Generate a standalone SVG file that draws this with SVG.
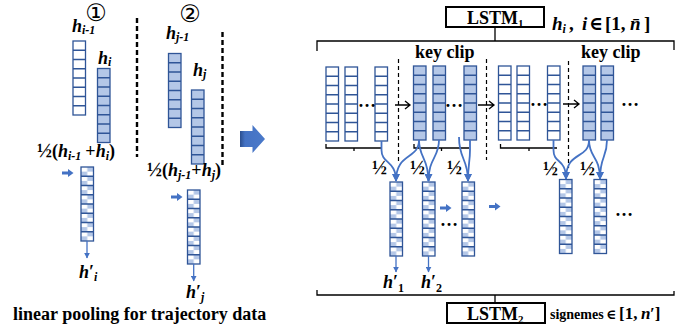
<svg xmlns="http://www.w3.org/2000/svg" xmlns:xlink="http://www.w3.org/1999/xlink" width="699" height="335" viewBox="0 0 699 335">
<style>
.t{font-family:"Liberation Serif","DejaVu Serif",serif;font-weight:bold;fill:#000}
.it{font-style:italic}
.cell{stroke:#2F5597;stroke-width:1.3}
.cv{fill:none;stroke:#4472C4;stroke-width:1.8}
.dn{fill:none;stroke:#4472C4;stroke-width:1.3}
.blk{fill:none;stroke:#000;stroke-width:1.3}
.dash{fill:none;stroke:#000;stroke-width:1.2;stroke-dasharray:4 3}
.dashL{fill:none;stroke:#000;stroke-width:2.4;stroke-dasharray:5 3}
.box{fill:#fff;stroke:#000;stroke-width:2}
.ba{fill:#4472C4}
.cd{font-family:"DejaVu Sans","Noto Sans CJK SC",sans-serif;fill:#000}
</style>
<defs>
<pattern id="chk" patternUnits="userSpaceOnUse" x="0" y="0" width="12.5" height="9.25">
<rect width="12.5" height="9.25" fill="#fff"/>
<rect x="6.25" y="0" width="6.25" height="4.625" fill="#B4C7E7"/>
<rect x="0" y="4.625" width="6.25" height="4.625" fill="#B4C7E7"/>
</pattern>
<path id="grid" d="M0,9.25H12.5M0,18.5H12.5M0,27.75H12.5M0,37H12.5M0,46.25H12.5M0,55.5H12.5M0,64.75H12.5" class="cell" fill="none"/>
<g id="colW"><rect width="12.5" height="74" fill="#fff" class="cell"/><use xlink:href="#grid"/></g>
<g id="colF"><rect width="12.5" height="74" fill="#B4C7E7" class="cell"/><use xlink:href="#grid"/></g>
<g id="colQ"><rect width="12.5" height="74" fill="url(#chk)" class="cell"/><use xlink:href="#grid"/></g>
<marker id="ah" viewBox="0 0 10 10" refX="9" refY="5" markerUnits="userSpaceOnUse" markerWidth="8" markerHeight="8" orient="auto"><path d="M0,0L10,5L0,10Z" fill="#4472C4"/></marker>
<marker id="ahs" viewBox="0 0 10 10" refX="9" refY="5" markerUnits="userSpaceOnUse" markerWidth="6" markerHeight="6" orient="auto"><path d="M0,0L10,5L0,10Z" fill="#4472C4"/></marker>
<linearGradient id="bigG" x1="0" y1="0" x2="1" y2="0">
<stop offset="0" stop-color="#2B4E8E"/><stop offset="0.2" stop-color="#4472C4"/><stop offset="1" stop-color="#4A79C9"/>
</linearGradient>
</defs>

<!-- left panel -->
<g id="left-panel">
<text class="cd" x="96" y="21" font-size="24" text-anchor="middle">①</text>
<text class="cd" x="190" y="22" font-size="24" text-anchor="middle">②</text>
<g id="hi-1"><use xlink:href="#colW" x="73" y="41"/>
<text class="t" x="72" y="32" font-size="18"><tspan class="it">h</tspan><tspan class="it" font-size="12" dy="2">i-1</tspan></text></g>
<g id="hi"><use xlink:href="#colF" x="97.5" y="68.5"/>
<text class="t" x="98" y="64" font-size="18"><tspan class="it">h</tspan><tspan class="it" font-size="12" dy="2">i</tspan></text></g>
<text class="t" x="37" y="157" font-size="18"><tspan font-size="20">½</tspan>(<tspan class="it">h</tspan><tspan class="it" font-size="12" dy="3">i-1</tspan><tspan dy="-3" dx="4">+</tspan><tspan class="it">h</tspan><tspan class="it" font-size="12" dy="3">i</tspan><tspan dy="-3">)</tspan></text>
<g id="qi"><use xlink:href="#colQ" x="81" y="167"/>
<text class="t" x="79" y="278" font-size="18"><tspan class="it">h</tspan>′<tspan class="it" font-size="12" dy="3">i</tspan></text></g>

<g id="hj-1"><use xlink:href="#colF" x="168.5" y="53.5"/>
<text class="t" x="166" y="39" font-size="18"><tspan class="it">h</tspan><tspan class="it" font-size="12" dy="2">j-1</tspan></text></g>
<g id="hj"><use xlink:href="#colF" x="191.5" y="90"/>
<text class="t" x="193" y="76" font-size="18"><tspan class="it">h</tspan><tspan class="it" font-size="12" dy="2">j</tspan></text></g>
<text class="t" x="147" y="176" font-size="18"><tspan font-size="20">½</tspan>(<tspan class="it">h</tspan><tspan class="it" font-size="12" dy="3">j-1</tspan><tspan dy="-3">+</tspan><tspan class="it">h</tspan><tspan class="it" font-size="12" dy="3">j</tspan><tspan dy="-3">)</tspan></text>
<g id="qj"><use xlink:href="#colQ" x="187.5" y="190"/>
<text class="t" x="186" y="298" font-size="18"><tspan class="it">h</tspan>′<tspan class="it" font-size="12" dy="3">j</tspan></text></g>

<path class="dashL" d="M137,18V157"/>
<path class="dashL" d="M222.5,32V168"/>
<text class="t" x="13" y="320" font-size="18">linear pooling for trajectory data</text>
</g>

<!-- big arrow -->
<g id="big-arrow"><path d="M240,131H252.5V125L265,139L252.5,153V147H240Z" fill="url(#bigG)"/></g>

<!-- right panel top -->
<g id="lstm1"><rect class="box" x="446" y="7" width="98" height="20"/>
<text class="t" x="467" y="24" font-size="18">LSTM<tspan font-size="11" dy="3">1</tspan></text></g>
<text class="t" x="552" y="30" font-size="19"><tspan class="it">h</tspan><tspan class="it" font-size="12" dy="3">i</tspan><tspan dy="-3" x="569">,</tspan><tspan class="it" x="582">i</tspan><tspan x="589">∈</tspan><tspan x="605">[1,</tspan><tspan class="it" x="630">n̄</tspan><tspan x="644">]</tspan></text>
<text class="t" x="415" y="58" font-size="18">key clip</text>
<text class="t" x="581" y="58" font-size="18">key clip</text>

<g id="top-cols">
<use xlink:href="#colW" x="326" y="67"/>
<use xlink:href="#colW" x="345" y="67"/>
<use xlink:href="#colW" x="375" y="67"/>
<use xlink:href="#colF" x="413.5" y="66"/>
<use xlink:href="#colF" x="433" y="66"/>
<use xlink:href="#colF" x="464" y="66"/>
<use xlink:href="#colW" x="498.5" y="66"/>
<use xlink:href="#colW" x="517" y="66"/>
<use xlink:href="#colW" x="547.5" y="66"/>
<use xlink:href="#colF" x="583" y="66"/>
<use xlink:href="#colF" x="601" y="66"/>
<text class="t" x="358" y="107" font-size="18">…</text>
<text class="t" x="445" y="107" font-size="18">…</text>
<text class="t" x="530" y="106" font-size="18">…</text>
<text class="t" x="621" y="106" font-size="18">…</text>
</g>

<g id="bottom-cols">
<use xlink:href="#colQ" x="390" y="182"/>
<use xlink:href="#colQ" x="422.5" y="182"/>
<use xlink:href="#colQ" x="462" y="182"/>
<use xlink:href="#colQ" x="559.5" y="179.5"/>
<use xlink:href="#colQ" x="594" y="179.5"/>
<text class="t" x="440" y="226" font-size="18">…</text>
<text class="t" x="615" y="216" font-size="18">…</text>
<text class="t" x="383" y="288" font-size="18"><tspan class="it">h</tspan>′<tspan font-size="12" dy="4">1</tspan></text>
<text class="t" x="421" y="288" font-size="18"><tspan class="it">h</tspan>′<tspan font-size="12" dy="4">2</tspan></text>
</g>

<g id="half-labels">
<text class="t" x="372" y="174" font-size="20">½</text>
<text class="t" x="410" y="174" font-size="20">½</text>
<text class="t" x="447" y="174" font-size="20">½</text>
<text class="t" x="543" y="175" font-size="20">½</text>
<text class="t" x="580" y="175" font-size="20">½</text>
</g>

<g id="lstm2"><rect class="box" x="447" y="303" width="98" height="20"/>
<text class="t" x="467" y="320" font-size="18">LSTM<tspan font-size="11" dy="3">2</tspan></text></g>
<text class="t" x="550" y="319" font-size="14">signemes</text>
<text class="t" x="606" y="319" font-size="17"><tspan font-size="14">∈</tspan><tspan x="619">[1,</tspan><tspan class="it" x="641">n</tspan><tspan x="650">′]</tspan></text>

<!-- connectors -->
<g id="connectors">
<path class="blk" d="M495,27V41M317,51V41H674V50"/>
<path class="blk" d="M317,290V295H674V291M495,295V302.5"/>
<path class="blk" d="M326,144V148H381.5M354,148V151"/>
<path class="blk" d="M414,144V148H469M441.5,148V151"/>
<path class="blk" d="M500.5,144V148H557M529,148V151"/>
<path class="dash" d="M398.5,59V162"/>
<path class="dash" d="M486.5,59V160"/>
<path class="dash" d="M568.5,61V168"/>
<path class="blk" d="M395,105H410M405,101L410,105L405,109"/>
<path class="blk" d="M478,105H494M489,101L494,105L489,109"/>
<path class="blk" d="M563,104H579M574,100L579,104L574,108"/>
<path class="cv" marker-end="url(#ah)" d="M381.5,141V150C381.5,164 396,160 396,181"/>
<path class="cv" marker-end="url(#ah)" d="M419,140C419,160 396,152 396,181"/>
<path class="cv" marker-end="url(#ah)" d="M419,140C419,158 428.5,158 428.5,181"/>
<path class="cv" marker-end="url(#ah)" d="M439,140C439,158 428.5,158 428.5,181"/>
<path class="cv" marker-end="url(#ah)" d="M459,137C459,160 468,158 468,181"/>
<path class="cv" marker-end="url(#ah)" d="M470,140V150C470,162 468,164 468,181"/>
<path class="cv" marker-end="url(#ah)" d="M553.5,140V150C553.5,164 566,158 566,179"/>
<path class="cv" marker-end="url(#ah)" d="M589,140C589,160 566,150 566,179"/>
<path class="cv" marker-end="url(#ah)" d="M589,140C589,158 600,156 600,179"/>
<path class="cv" marker-end="url(#ah)" d="M607,140C607,158 600,156 600,179"/>
<path class="dn" marker-end="url(#ahs)" d="M396,256V272"/>
<path class="dn" marker-end="url(#ahs)" d="M428.5,256V272"/>
<path class="dn" marker-end="url(#ahs)" d="M87,241V258"/>
<path class="dn" marker-end="url(#ahs)" d="M193.7,264V281"/>
<path class="ba" d="M62,171.5H68V169L73.5,173L68,177V174.5H62Z"/>
<path class="ba" d="M171,195.5H177V193L182.5,197L177,201V198.5H171Z"/>
<path class="ba" d="M440,206.5H446V204L451.5,208L446,212V209.5H440Z"/>
<path class="ba" d="M489,205H495V202.5L500.5,206.5L495,210.5V208H489Z"/>
</g>
</svg>
